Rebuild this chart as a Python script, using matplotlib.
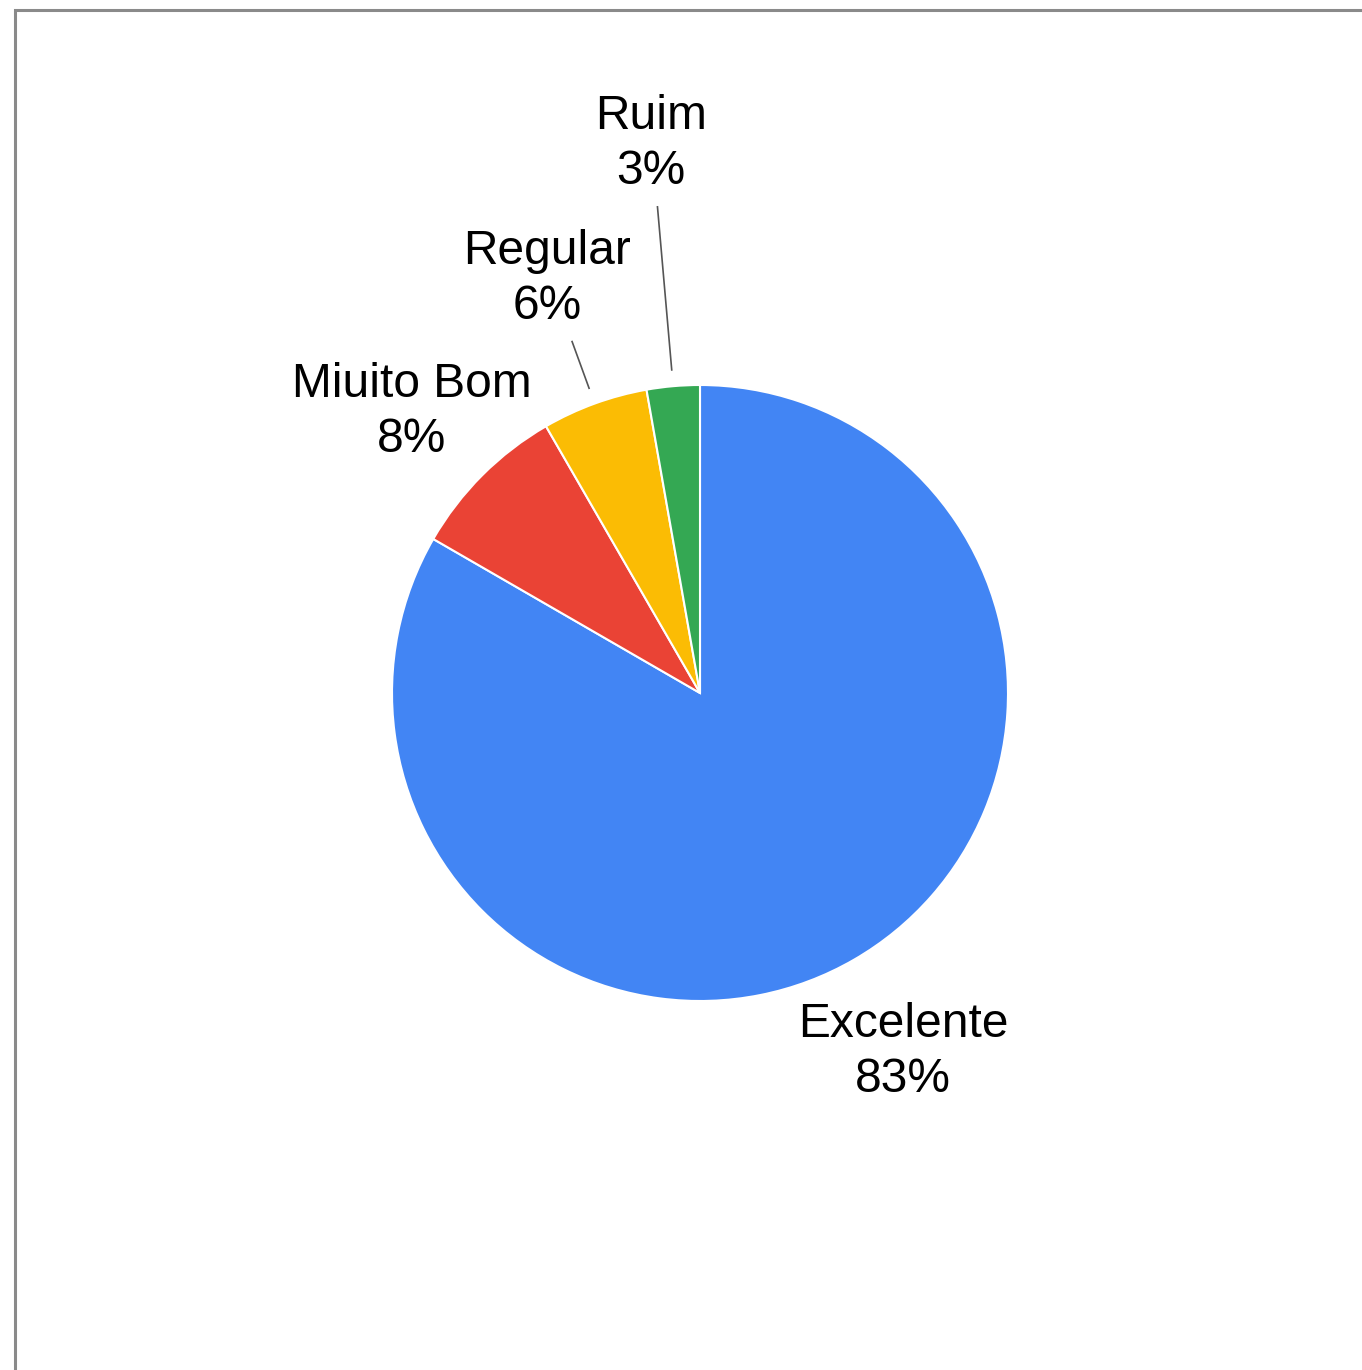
import numpy as np
import matplotlib.pyplot as plt

# dados (respostas)
categorias = ['Excelente', 'Miuito Bom', 'Regular', 'Ruim']
valores = [30, 3, 2, 1]
cores = ['#4285F4', '#EA4335', '#FBBC04', '#34A853']

W, H = 1362, 1370
plt.rcParams['font.family'] = ['Liberation Sans', 'DejaVu Sans']

fig = plt.figure(figsize=(W/100, H/100), dpi=100)
ax = fig.add_axes([0, 0, 1, 1])

def fy(y):
    # pixel y (top-down) to data y
    return H - y

cx, cy, r = 700, 693, 308
wedges, _ = ax.pie(valores, colors=cores, startangle=90, counterclock=False,
                   center=(cx, fy(cy)), radius=r, frame=True,
                   wedgeprops=dict(edgecolor='white', linewidth=1.5))
ax.set_xlim(0, W)
ax.set_ylim(0, H)
ax.axis('off')

total = sum(valores)
pct = [round(100*v/total) for v in valores]

# posicoes dos rotulos (px)
pos_rot = {'Excelente': (903, 1052), 'Miuito Bom': (412, 412),
           'Regular': (547, 279), 'Ruim': (651, 144)}
# comprimento externo das linhas guia (px do centro)
guia = {'Regular': 374, 'Ruim': 488}

for w, cat, p in zip(wedges, categorias, pct):
    x, y = pos_rot[cat]
    ax.text(x, fy(y), f'{cat}\n{p}%', ha='center', va='center',
            fontsize=34.5, linespacing=1.28, color='#000000')
    if cat in guia:
        ang = np.deg2rad((w.theta1 + w.theta2) / 2)
        r0, r1 = r * 1.053, guia[cat]
        ax.plot([cx + r0*np.cos(ang), cx + r1*np.cos(ang)],
                [fy(cy) + r0*np.sin(ang), fy(cy) + r1*np.sin(ang)],
                color='#555555', lw=1.2)

# moldura
ax.plot([15, 15, W], [0, fy(9.5), fy(9.5)], color='#8a8a8a', lw=2.2,
        solid_joinstyle='miter')

fig.savefig('out.png', dpi=100, facecolor='white')
